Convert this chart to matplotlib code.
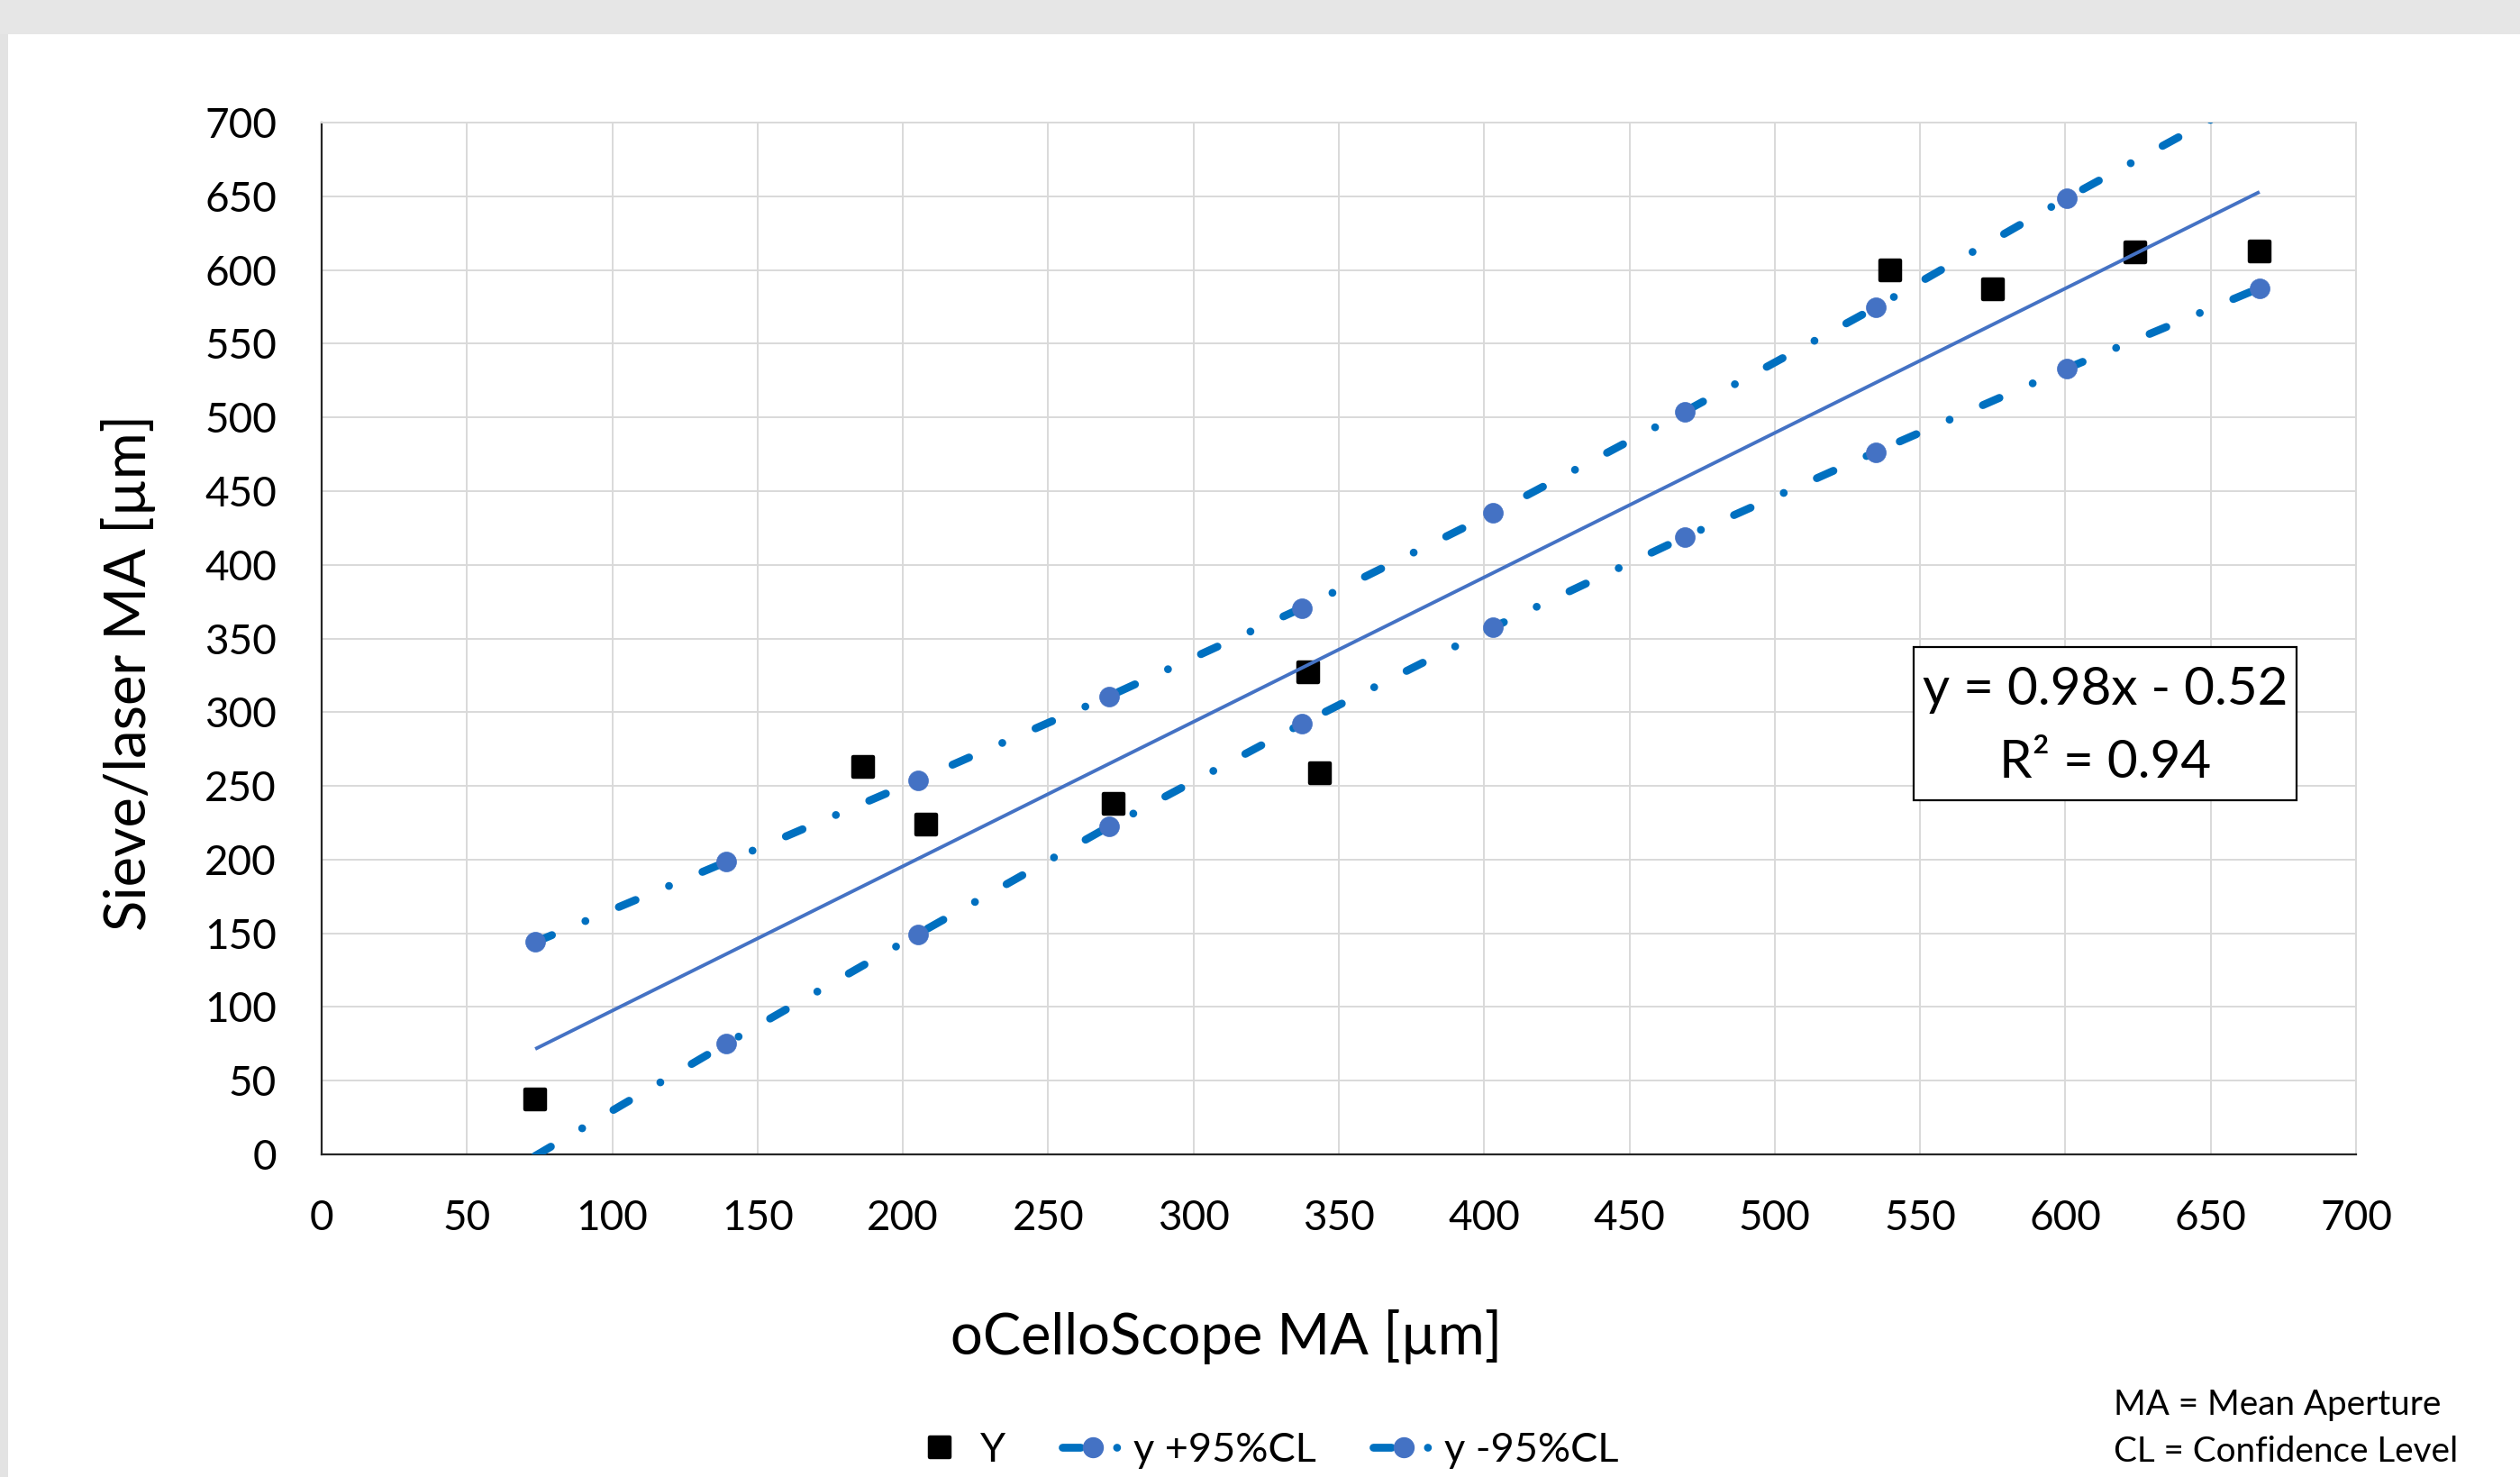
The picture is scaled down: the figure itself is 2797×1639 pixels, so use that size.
import matplotlib
matplotlib.use("Agg")
import matplotlib.pyplot as plt
from matplotlib.markers import MarkerStyle
from matplotlib.patches import Rectangle
from matplotlib.lines import Line2D
import numpy as np

# ---------------- data ----------------
obs_x = [73.5, 186.3, 207.9, 272.6, 339.5, 343.4, 539.6, 575.0, 624.2, 666.8]
obs_y = [37.0, 263.0, 223.5, 237.7, 327.0, 258.4, 599.7, 586.6, 611.7, 612.8]

cl_x = [73.5, 139.3, 205.1, 270.9, 337.3, 403.1, 468.9, 534.7, 600.5, 666.8]
cl_upper = [144.0, 198.5, 254.0, 310.8, 370.7, 435.0, 503.8, 574.6, 648.8, 720.0]
cl_lower = [-1.0, 75.2, 149.4, 222.4, 292.2, 357.6, 418.7, 476.5, 533.2, 587.7]

fit_slope = 0.98
fit_intercept = -0.52
r_squared = 0.94

x_ticks = list(range(0, 701, 50))
y_ticks = list(range(0, 701, 50))

legend_labels = ["Y", "y +95%CL", "y -95%CL"]
x_title = "oCelloScope MA [µm]"
y_title = "Sieve/laser MA [µm]"
notes = ["MA = Mean Aperture", "CL = Confidence Level"]

# ---------------- style ----------------
FONT = "Lato"
plt.rcParams["font.family"] = [FONT, "DejaVu Sans"]
W, H = 2797, 1639
DPI = 100
fig = plt.figure(figsize=(W / DPI, H / DPI), dpi=DPI, facecolor="white")

# grey frame remnants (top band, left strip)
fig.patches.append(Rectangle((0, 1 - 38 / H), 1, 38 / H, transform=fig.transFigure,
                             facecolor="#E6E6E6", edgecolor="none", zorder=0))
fig.patches.append(Rectangle((0, 0), 9 / W, 1 - 38 / H, transform=fig.transFigure,
                             facecolor="#E3E3E3", edgecolor="none", zorder=0))

ax_l, ax_r, ax_t, ax_b = 357, 2615, 136, 1281
ax = fig.add_axes([ax_l / W, 1 - ax_b / H, (ax_r - ax_l) / W, (ax_b - ax_t) / H])
ax.set_facecolor("white")

ax.set_xlim(0, 700)
ax.set_ylim(0, 700)
ax.set_xticks(x_ticks)
ax.set_yticks(y_ticks)
ax.grid(True, color="#D9D9D9", linewidth=1.4, zorder=0)
ax.set_axisbelow(True)
for s in ["top", "right"]:
    ax.spines[s].set_color("#D9D9D9")
    ax.spines[s].set_linewidth(1.4)
for s in ["left", "bottom"]:
    ax.spines[s].set_color("#262626")
    ax.spines[s].set_linewidth(1.6)
ax.tick_params(axis="both", length=0, labelsize=33, colors="black")
ax.tick_params(axis="y", pad=36)
ax.tick_params(axis="x", pad=36)

line_col = "#0070C0"
mark_col = "#4472C4"
lw = 6.3
dash = (0, (2.3, 4.6, 0.001, 4.6))

def cl_series(xs, ys, zo):
    ax.plot(xs, ys, color=line_col, linewidth=lw, linestyle=dash,
            dash_capstyle="round", solid_capstyle="round", zorder=zo)
    xs_v = [x for x, y in zip(xs, ys) if 0 <= y <= 700]
    ys_v = [y for y in ys if 0 <= y <= 700]
    ax.plot(xs_v, ys_v, linestyle="none", marker="o", markersize=15.8,
            markerfacecolor=mark_col, markeredgecolor=mark_col, markeredgewidth=0.5,
            zorder=zo + 0.5)

cl_series(cl_x, cl_upper, 3)
cl_series(cl_x, cl_lower, 3)

sq = MarkerStyle("s", joinstyle="round")
SQ_MS, SQ_MEW = 15.2, 3.2
ax.plot(obs_x, obs_y, linestyle="none", marker=sq, markersize=SQ_MS,
        markerfacecolor="black", markeredgecolor="black", markeredgewidth=SQ_MEW, zorder=5)

fx = np.array([min(obs_x), max(obs_x)])
ax.plot(fx, fit_slope * fx + fit_intercept, color=mark_col, linewidth=2.8, zorder=6,
        solid_capstyle="butt")

# axis titles
fig.text(1361 / W, 1 - 1484 / H, x_title, ha="center", va="center", fontsize=45.5)
fig.text(143 / W, 1 - 746 / H, y_title, ha="center", va="center", fontsize=45.5,
         rotation=90)

# equation box
bx0, by0, bx1, by1 = 2124, 718, 2549, 888
fig.patches.append(Rectangle((bx0 / W, 1 - by1 / H), (bx1 - bx0) / W, (by1 - by0) / H,
                             transform=fig.transFigure, facecolor="white",
                             edgecolor="black", linewidth=1.6, zorder=3))
eq1 = f"y = {fit_slope:.2f}x - {abs(fit_intercept):.2f}"
eq2 = f"R² = {r_squared:.2f}"
fig.text((bx0 + bx1) / 2 / W, 1 - 765 / H, eq1, ha="center", va="center", fontsize=42,
         zorder=4)
fig.text((bx0 + bx1) / 2 / W, 1 - 846 / H, eq2, ha="center", va="center", fontsize=42,
         zorder=4)

# legend
h_y = Line2D([], [], linestyle="none", marker=sq, markersize=SQ_MS, markerfacecolor="black",
             markeredgecolor="black", markeredgewidth=SQ_MEW)
h_u = Line2D([], [], color=line_col, linewidth=lw, linestyle=dash, dash_capstyle="round",
             marker="o", markersize=15.8, markerfacecolor=mark_col, markeredgecolor=mark_col)
h_l = Line2D([], [], color=line_col, linewidth=lw, linestyle=dash, dash_capstyle="round",
             marker="o", markersize=15.8, markerfacecolor=mark_col, markeredgecolor=mark_col)
fig.legend([h_y, h_u, h_l], legend_labels, loc="center", ncol=3,
           bbox_to_anchor=(1403 / W, 1 - 1609 / H), frameon=False, fontsize=32.5,
           handlelength=1.5, handletextpad=0.25, columnspacing=1.4, numpoints=1,
           borderpad=0, borderaxespad=0)

# notes
fig.text(2346 / W, 1 - 1559 / H, notes[0], ha="left", va="center", fontsize=27.8)
fig.text(2346 / W, 1 - 1611 / H, notes[1], ha="left", va="center", fontsize=27.8)

fig.savefig("out.png", dpi=DPI, facecolor="white")
